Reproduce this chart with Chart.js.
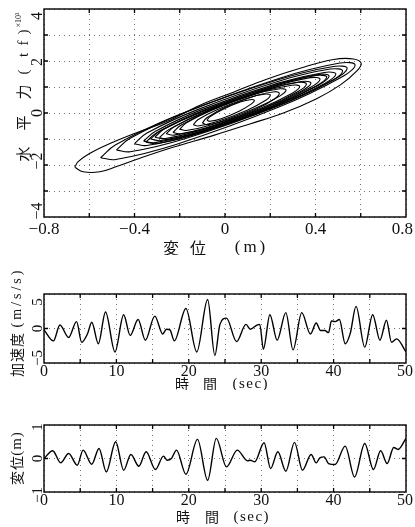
<!DOCTYPE html>
<html><head><meta charset="utf-8">
<script src="https://cdn.jsdelivr.net/npm/chart.js@4.4.0/dist/chart.umd.min.js"></script>
<style>
html,body{margin:0;padding:0;background:#fff;width:415px;height:527px;overflow:hidden;position:relative}
canvas{position:absolute;left:0}
</style></head><body>
<canvas id="c1" width="415" height="255" style="top:0"></canvas>
<canvas id="c2" width="415" height="135" style="top:255px"></canvas>
<canvas id="c3" width="415" height="127" style="top:400px"></canvas>
<script>
// ---------- DATA ----------
// hysteresis loops: displacement (m), horizontal force (tf x10^3)
const loopA = [[-0.664,-2.09],[-0.649,-1.87],[-0.597,-1.55],[-0.523,-1.23],[-0.406,-0.81],[-0.258,-0.33],[-0.11,0.3],[0.037,0.8],[0.184,1.3],[0.332,1.72],[0.48,2.06],[0.568,2.08],[0.602,1.91],[0.583,1.62],[0.51,1.08],[0.405,0.55],[0.258,0.0],[0.11,-0.42],[-0.05,-0.86],[-0.23,-1.32],[-0.376,-1.74],[-0.479,-2.06],[-0.553,-2.26],[-0.627,-2.26],[-0.664,-2.09]];
const loopB = [[-0.55,-1.72],[-0.483,-1.22],[-0.213,-0.10],[0.238,1.33],[0.508,1.92],[0.575,1.85],[0.508,1.35],[0.238,0.23],[-0.213,-1.20],[-0.483,-1.79],[-0.55,-1.72]];
const loopC = [[-0.48,-1.42],[-0.419,-0.97],[-0.174,0.03],[0.234,1.28],[0.479,1.79],[0.54,1.72],[0.479,1.27],[0.234,0.27],[-0.174,-0.98],[-0.419,-1.49],[-0.48,-1.42]];
const loopD = [[-0.40,-1.18],[-0.345,-0.77],[-0.124,0.12],[0.244,1.24],[0.465,1.69],[0.52,1.62],[0.465,1.21],[0.244,0.32],[-0.124,-0.80],[-0.345,-1.25],[-0.40,-1.18]];
const loopE = [[-0.36,-1.08],[-0.309,-0.71],[-0.105,0.12],[0.235,1.15],[0.439,1.56],[0.49,1.50],[0.439,1.13],[0.235,0.30],[-0.105,-0.73],[-0.309,-1.14],[-0.36,-1.08]];
const loopL = [[-0.35,-1.12],[-0.301,-0.76],[-0.107,0.05],[0.217,1.06],[0.411,1.48],[0.46,1.42],[0.411,1.06],[0.217,0.26],[-0.107,-0.76],[-0.301,-1.18],[-0.35,-1.12]];
const loopF = [[-0.33,-1.0],[-0.283,-0.66],[-0.096,0.10],[0.216,1.05],[0.403,1.44],[0.45,1.38],[0.403,1.04],[0.216,0.28],[-0.096,-0.67],[-0.283,-1.06],[-0.33,-1.0]];
const loopM = [[-0.29,-0.95],[-0.247,-0.63],[-0.077,0.09],[0.207,0.99],[0.377,1.36],[0.42,1.30],[0.377,0.98],[0.207,0.26],[-0.077,-0.64],[-0.247,-1.01],[-0.29,-0.95]];
const loopG = [[-0.31,-0.93],[-0.269,-0.62],[-0.103,0.04],[0.173,0.87],[0.339,1.21],[0.38,1.15],[0.339,0.85],[0.173,0.18],[-0.103,-0.65],[-0.269,-0.99],[-0.31,-0.93]];
const loopN = [[-0.23,-0.75],[-0.195,-0.47],[-0.053,0.14],[0.183,0.89],[0.325,1.18],[0.36,1.12],[0.325,0.84],[0.183,0.23],[-0.053,-0.52],[-0.195,-0.81],[-0.23,-0.75]];
const loopH = [[-0.26,-0.8],[-0.225,-0.53],[-0.083,0.06],[0.153,0.79],[0.295,1.07],[0.33,1.02],[0.295,0.75],[0.153,0.16],[-0.083,-0.57],[-0.225,-0.85],[-0.26,-0.8]];
const loopI = [[-0.2,-0.62],[-0.172,-0.39],[-0.059,0.11],[0.129,0.71],[0.242,0.93],[0.27,0.88],[0.242,0.65],[0.129,0.16],[-0.059,-0.45],[-0.172,-0.67],[-0.2,-0.62]];
const loopO = [[-0.1,-0.38],[-0.08,-0.18],[0.002,0.22],[0.138,0.67],[0.22,0.82],[0.24,0.75],[0.22,0.55],[0.138,0.15],[0.002,-0.30],[-0.08,-0.45],[-0.1,-0.38]];
const loopJ = [[-0.14,-0.45],[-0.12,-0.26],[-0.038,0.12],[0.098,0.57],[0.18,0.73],[0.2,0.68],[0.18,0.49],[0.098,0.11],[-0.038,-0.34],[-0.12,-0.50],[-0.14,-0.45]];
const loopK = [[-0.08,-0.28],[-0.067,-0.15],[-0.017,0.11],[0.067,0.42],[0.117,0.52],[0.13,0.48],[0.117,0.35],[0.067,0.09],[-0.017,-0.22],[-0.067,-0.32],[-0.08,-0.28]];
const loops = [loopA,loopB,loopC,loopD,loopE,loopL,loopF,loopM,loopG,loopN,loopH,loopI,loopO,loopJ,loopK];

// acceleration time history (sec, m/s/s)
const accT = [0,1.3,2.2,3.4,4.5,5.2,6.0,6.6,7.5,8.5,9.8,11.0,11.9,13.0,14.0,15.3,16.4,16.9,17.4,18.0,19.6,21.1,22.6,23.6,24.3,25.2,26.6,27.9,28.5,29.4,29.8,30.3,31.2,32.2,33.4,34.4,35.6,36.8,37.6,38.2,38.8,39.3,39.7,40.2,40.8,41.6,42.3,43.1,44.3,45.4,46.4,47.3,48.0,48.7,50.0];
const accV = [-0.2,-1.8,0.5,-1.3,1.0,-2.0,-0.8,0.9,-2.2,2.4,-3.4,2.0,-1.0,1.3,-1.7,1.8,-0.8,-0.1,-0.2,-1.8,2.9,-3.4,4.2,-3.9,0.6,1.5,-1.9,0.6,-0.1,0.5,0.6,-3.0,2.0,-1.7,2.3,-3.1,2.3,-0.8,0.8,-0.3,-0.3,-0.6,1.1,1.0,1.3,-2.2,-0.7,3.2,-2.7,2.0,-1.7,1.2,-2.0,-1.5,-3.4];

// displacement time history (sec, m)
const dispT = [0,1.2,2.3,3.4,4.6,5.4,6.6,7.6,8.6,9.9,11.0,12.0,13.1,14.1,15.4,16.5,17.0,17.6,18.3,19.6,21.2,22.6,23.8,25.2,26.7,28.1,28.5,29.1,30.4,31.3,32.3,33.4,34.6,35.7,36.9,37.6,38.1,38.7,39.3,40.2,41.6,42.9,44.3,45.5,46.5,47.4,48.3,48.9,50.0];
const dispV = [0,0.23,-0.13,0.15,-0.2,0.25,-0.17,0.3,-0.4,0.5,-0.35,0.12,-0.23,0.2,-0.33,0.07,-0.05,0,0.25,-0.47,0.57,-0.65,0.6,-0.25,0.25,-0.07,-0.05,-0.1,0.47,-0.3,0.2,-0.38,0.48,-0.35,0.12,-0.13,0.02,0.05,-0.15,-0.18,0.37,-0.55,0.45,-0.33,0.23,-0.15,0.33,0.27,0.6];

// tick labels
const hxTickVals = [-0.8,-0.4,0,0.4,0.8];
const hxTickText = ['\u22120.8','\u22120.4','0','0.4','0.8'];
const hyTickVals = [4,2,0,-2,-4];
const hyTickText = ['4','2','0','\u22122','\u22124'];
const tTickVals = [0,10,20,30,40,50];
const tTickText = ['0','10','20','30','40','50'];
const aTickVals = [5,0,-5];
const aTickText = ['5','0','\u22125'];
const dTickVals = [1,0,-1];
const dTickText = ['1','0','\u22121'];

// ---------- RENDER ----------
const SERIF = '"Liberation Serif","DejaVu Serif",serif';
const CJK = '"Noto Sans CJK JP","Noto Sans CJK SC",sans-serif';

function drawSpaced(ctx, s, sp){
  let w = 0; const ws = [];
  for (const ch of s){ const m = ctx.measureText(ch).width; ws.push(m); w += m; }
  w += sp*(s.length-1);
  let x = -w/2; ctx.textAlign='left';
  [...s].forEach((ch,i)=>{ ctx.fillText(ch,x,0); x += ws[i]+sp; });
}

function decor(o){ return { id:'decor', afterDraw(chart){
  const ctx = chart.ctx, a = chart.chartArea, xs = chart.scales.x, ys = chart.scales.y;
  ctx.save();
  ctx.strokeStyle = '#000'; ctx.lineWidth = 1.4;
  ctx.strokeRect(a.left, a.top, a.right-a.left, a.bottom-a.top);
  ctx.lineWidth = 1.3; ctx.beginPath();
  o.xMarks.forEach(v=>{ const p = xs.getPixelForValue(v); ctx.moveTo(p,a.bottom); ctx.lineTo(p,a.bottom-4); ctx.moveTo(p,a.top); ctx.lineTo(p,a.top+4); });
  o.yMarks.forEach(v=>{ const p = ys.getPixelForValue(v); ctx.moveTo(a.left,p); ctx.lineTo(a.left+4,p); ctx.moveTo(a.right,p); ctx.lineTo(a.right-4,p); });
  ctx.stroke();
  ctx.fillStyle = '#111'; ctx.textBaseline = 'middle';
  ctx.font = o.xFont;
  o.xVals.forEach((v,i)=>{ let p = xs.getPixelForValue(v); const t = o.xText[i]; const w = ctx.measureText(t).width; p = Math.min(p, 413-w/2); ctx.textAlign='center'; ctx.fillText(t, p, o.xLabelY - o.top); });
  ctx.font = o.yFont;
  o.yVals.forEach((v,i)=>{ const p = ys.getPixelForValue(v) + o.yShift[i]; ctx.save(); ctx.translate(o.yLabelX, p); ctx.rotate(-Math.PI/2); ctx.textAlign='center'; ctx.fillText(o.yText[i],0,0); ctx.restore(); });
  o.texts.forEach(t=>{ ctx.save(); ctx.font = t.font; ctx.translate(t.x, t.y - o.top); if (t.rot) ctx.rotate(-Math.PI/2); if (t.sp) drawSpaced(ctx, t.s, t.sp); else { ctx.textAlign='center'; ctx.fillText(t.s,0,0); } ctx.restore(); });
  ctx.restore();
}}; }

function axis(min, max, step){
  return { type:'linear', min, max, ticks:{display:false, stepSize:step},
    grid:{color:'rgba(0,0,0,0.55)', lineWidth:1, drawTicks:false},
    border:{display:false, dash:[1,4]},
    afterFit(s){ if (s.isHorizontal()) s.height = 0; else s.width = 0; } };
}
const common = (pad) => ({ responsive:false, animation:false, devicePixelRatio:1,
  layout:{padding:pad}, plugins:{legend:{display:false}, tooltip:{enabled:false}} });

// Chart 1: hysteresis
new Chart(document.getElementById('c1'), {
  type:'scatter',
  data:{ datasets: loops.map(l => ({ data: l.map(p=>({x:p[0], y:p[1]})), showLine:true, tension:0.4,
    borderColor:'#000', borderWidth:1.1, pointRadius:0, fill:false })) },
  options:{ ...common({left:44,right:9,top:9,bottom:38}),
    scales:{ x:axis(-0.8,0.8,0.2), y:axis(-4,4,1) } },
  plugins:[decor({ top:0,
    xMarks:[-0.6,-0.4,-0.2,0,0.2,0.4,0.6], yMarks:[-3,-2,-1,0,1,2,3],
    xFont:'17px '+SERIF, xVals:hxTickVals, xText:hxTickText, xLabelY:230,
    yFont:'16px '+SERIF, yVals:hyTickVals, yText:hyTickText, yLabelX:38, yShift:[7,1,0,-4,-6],
    texts:[
      {s:'変', x:171, y:248, font:'16px '+CJK},
      {s:'位', x:198, y:248, font:'16px '+CJK},
      {s:'(m)', x:250, y:248, font:'17px '+SERIF, sp:3},
      {s:'水', x:23, y:154, font:'15px '+CJK, rot:true},
      {s:'平', x:23, y:123, font:'15px '+CJK, rot:true},
      {s:'力', x:23, y:92, font:'15px '+CJK, rot:true},
      {s:'(', x:24, y:72, font:'15px '+SERIF, rot:true},
      {s:'t', x:24, y:55, font:'15px '+SERIF, rot:true},
      {s:'f', x:24, y:43, font:'15px '+SERIF, rot:true},
      {s:')', x:24, y:32, font:'15px '+SERIF, rot:true},
      {s:'×10³', x:19, y:20, font:'8px '+SERIF, rot:true}
    ]})]
});

// Chart 2: acceleration
new Chart(document.getElementById('c2'), {
  type:'scatter',
  data:{ datasets:[{ data: accT.map((t,i)=>({x:t, y:accV[i]})), showLine:true, cubicInterpolationMode:'monotone',
    borderColor:'#000', borderWidth:1.4, pointRadius:0, fill:false }] },
  options:{ ...common({left:44,right:9,top:39,bottom:27}),
    scales:{ x:axis(0,50,5), y:axis(-5,5,5) } },
  plugins:[decor({ top:255,
    xMarks:[5,10,15,20,25,30,35,40,45], yMarks:[0],
    xFont:'16px '+SERIF, xVals:tTickVals, xText:tTickText, xLabelY:372,
    yFont:'15px '+SERIF, yVals:aTickVals, yText:aTickText, yLabelX:38, yShift:[8,0,-5],
    texts:[
      {s:'時', x:182, y:384, font:'14px '+CJK},
      {s:'間', x:210, y:384, font:'14px '+CJK},
      {s:'(sec)', x:250, y:384, font:'15px '+SERIF, sp:1.5},
      {s:'加', x:17, y:370, font:'14px '+CJK, rot:true},
      {s:'速', x:17, y:355, font:'14px '+CJK, rot:true},
      {s:'度', x:17, y:340, font:'14px '+CJK, rot:true},
      {s:'(m/s/s)', x:17, y:299, font:'14px '+SERIF, rot:true, sp:3}
    ]})]
});

// Chart 3: displacement
new Chart(document.getElementById('c3'), {
  type:'scatter',
  data:{ datasets:[{ data: dispT.map((t,i)=>({x:t, y:dispV[i]})), showLine:true, cubicInterpolationMode:'monotone',
    borderColor:'#000', borderWidth:1.4, pointRadius:0, fill:false }] },
  options:{ ...common({left:44,right:9,top:25,bottom:35}),
    scales:{ x:axis(0,50,5), y:axis(-1,1,1) } },
  plugins:[decor({ top:400,
    xMarks:[5,10,15,20,25,30,35,40,45], yMarks:[0],
    xFont:'16px '+SERIF, xVals:tTickVals, xText:tTickText, xLabelY:501,
    yFont:'15px '+SERIF, yVals:dTickVals, yText:dTickText, yLabelX:38, yShift:[2,0,3],
    texts:[
      {s:'時', x:183, y:517, font:'14px '+CJK},
      {s:'間', x:212, y:517, font:'14px '+CJK},
      {s:'(sec)', x:251, y:517, font:'15px '+SERIF, sp:1.5},
      {s:'変', x:17, y:478, font:'14px '+CJK, rot:true},
      {s:'位', x:17, y:463, font:'14px '+CJK, rot:true},
      {s:'(m)', x:17, y:444, font:'15px '+SERIF, rot:true, sp:1}
    ]})]
});
</script>
</body></html>
